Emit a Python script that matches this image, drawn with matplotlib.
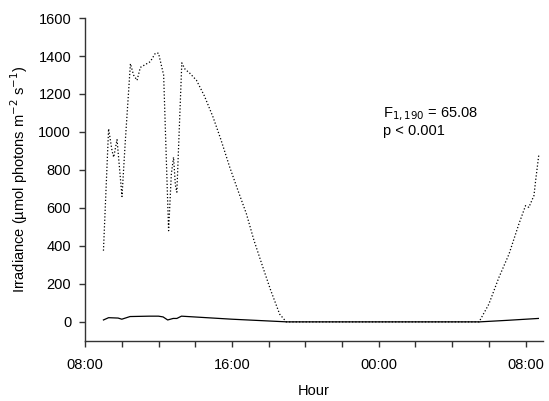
import matplotlib
matplotlib.use("Agg")
import matplotlib.pyplot as plt
from matplotlib.ticker import MultipleLocator, FixedLocator

plt.rcParams['font.family'] = ['Liberation Sans', 'DejaVu Sans']

# --- data (hours since 00:00 of day 1; >24 means next day) ---
irr_hour = [9.0, 9.28, 9.47, 9.56, 9.74, 10.01, 10.19, 10.47, 10.64, 10.83,
            11.01, 11.55, 11.83, 12.0, 12.28, 12.55, 12.7, 12.82, 12.92, 13.0,
            13.27, 13.45, 13.7, 14.07, 14.5, 14.97, 15.4, 15.88, 16.3, 16.79,
            17.2, 17.69, 18.1, 18.6, 18.96, 29.47, 30.0, 30.55, 31.1, 31.64,
            32.0, 32.18, 32.46, 32.55, 32.73]
irr_value = [375, 1017, 900, 867, 960, 660, 950, 1360, 1300, 1272,
             1340, 1370, 1415, 1415, 1300, 480, 780, 867, 720, 683,
             1364, 1330, 1310, 1272, 1190, 1079, 960, 815, 700, 569,
             430, 287, 170, 41, 0, 0, 93, 234, 357, 516,
             612, 603, 665, 744, 885]

sub_hour = [9.0, 9.28, 9.8, 10.0, 10.45, 11.5, 12.0, 12.25, 12.5, 12.8,
            13.0, 13.25, 16.0, 19.0, 29.5, 31.0, 32.7]
sub_value = [10, 22, 20, 14, 28, 30, 30, 26, 10, 18,
             18, 30, 14, 0, 0, 8, 18]

major_ticks = [8, 16, 24, 32]
major_labels = ['08:00', '16:00', '00:00', '08:00']

fig = plt.figure(figsize=(5.49, 4.01), dpi=100)
ax = fig.add_axes([0.155, 0.15, 0.834, 0.805])

ax.plot(irr_hour, irr_value, color='black', linestyle=':', linewidth=0.9)
ax.plot(sub_hour, sub_value, color='black', linestyle='-', linewidth=0.9)

ax.set_xlim(8, 32.95)
ax.set_ylim(-100, 1600)
ax.yaxis.set_major_locator(MultipleLocator(200))
ax.xaxis.set_major_locator(FixedLocator(major_ticks))
ax.set_xticklabels(major_labels)
ax.xaxis.set_minor_locator(MultipleLocator(2))

ax.tick_params(axis='both', which='both', direction='out', length=4,
               width=1, labelsize=10.5, color='#333333')
ax.tick_params(axis='x', pad=8)
ax.tick_params(axis='y', pad=6)

for side in ['top', 'right']:
    ax.spines[side].set_visible(False)
for side in ['left', 'bottom']:
    ax.spines[side].set_color('#333333')
    ax.spines[side].set_linewidth(1.0)

ax.set_xlabel('Hour', fontsize=10.5, labelpad=9)
ax.set_ylabel('Irradiance (µmol photons m$^{-2}$ s$^{-1}$)', fontsize=10.5,
              labelpad=6)

ax.text(0.65, 0.693, 'F$_{1,190}$ = 65.08', transform=ax.transAxes,
        fontsize=10.5, va='baseline', ha='left')
ax.text(0.65, 0.637, 'p < 0.001', transform=ax.transAxes,
        fontsize=10.5, va='baseline', ha='left')

fig.savefig('out.png', dpi=100)
